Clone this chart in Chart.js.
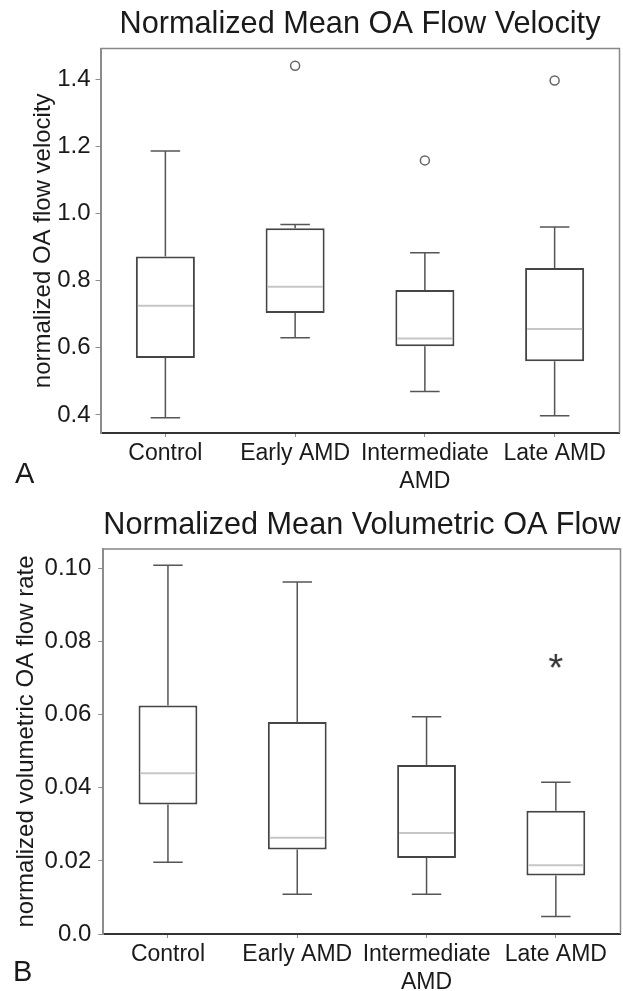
<!DOCTYPE html>
<html>
<head>
<meta charset="utf-8">
<script src="https://cdn.jsdelivr.net/npm/chart.js@4.4.1/dist/chart.umd.min.js"></script>
<style>
html,body{margin:0;padding:0;background:#fff;}
body{width:623px;height:991px;position:relative;overflow:hidden;font-family:"Liberation Sans",Arial,sans-serif;}
.panel{position:absolute;left:0;width:623px;}
#wrapA{top:0;height:500px;}
#wrapB{top:478px;height:513px;}
.tag{position:absolute;font-size:29px;line-height:29px;color:#1a1a1a;}
</style>
</head>
<body>
<div class="panel" id="wrapA"><canvas id="chartA" width="623" height="500"></canvas></div>
<div class="panel" id="wrapB"><canvas id="chartB" width="623" height="513"></canvas></div>
<div class="tag" style="left:15px;top:459px">A</div>
<div class="tag" style="left:13px;top:957px">B</div>
<script>
"use strict";

const groups = ['Control', 'Early AMD', ['Intermediate', 'AMD'], 'Late AMD'];

// Panel A: normalized mean OA flow velocity
const velMin = [0.392, 0.630, 0.470, 0.398];
const velQ1  = [0.570, 0.704, 0.605, 0.560];
const velMed = [0.725, 0.782, 0.628, 0.656];
const velQ3  = [0.872, 0.956, 0.772, 0.838];
const velMax = [1.186, 0.967, 0.883, 0.960];
const velOut = [null, 1.440, 1.158, 1.396];
const velTicks = [0.4, 0.6, 0.8, 1.0, 1.2, 1.4];
const velTickLabels = ['0.4', '0.6', '0.8', '1.0', '1.2', '1.4'];

// Panel B: normalized mean volumetric OA flow
const volMin = [0.0196, 0.0109, 0.0109, 0.0048];
const volQ1  = [0.0354, 0.0231, 0.0208, 0.0160];
const volMed = [0.0440, 0.0263, 0.0276, 0.0188];
const volQ3  = [0.0625, 0.0580, 0.0462, 0.0337];
const volMax = [0.1009, 0.0963, 0.0594, 0.0415];
const volOut = [null, null, null, 0.0747];
const volTicks = [0, 0.02, 0.04, 0.06, 0.08, 0.10];
const volTickLabels = ['0.0', '0.02', '0.04', '0.06', '0.08', '0.10'];

const C = {ink:'#1a1a1a', box:'#454545', whisk:'#555', med:'#c6c6c6',
           axisX:'#333', axisY:'#8c8c8c', frame:'#888', tick:'#8c8c8c'};
Chart.defaults.font.family = '"Liberation Sans", Arial, sans-serif';
Chart.defaults.color = C.ink;

// asterisk marker for the extreme value
function starMarker() {
  const c = document.createElement('canvas');
  c.width = 26; c.height = 26;
  const g = c.getContext('2d');
  g.font = '38px "Liberation Sans", Arial, sans-serif';
  g.fillStyle = '#333';
  g.textAlign = 'center';
  const m = g.measureText('*');
  const h = m.actualBoundingBoxAscent + m.actualBoundingBoxDescent;
  g.fillText('*', 13, 13 - h / 2 + m.actualBoundingBoxAscent);
  return c;
}

// whiskers, caps and median, placed with the chart's own scales
const boxPlot = {
  id: 'boxPlot',
  afterDatasetsDraw(chart, args, o) {
    const {ctx, scales: {x, y}} = chart;
    const meta = chart.getDatasetMeta(0);
    ctx.save();
    o.min.forEach((lo, i) => {
      const cx = x.getPixelForValue(i);
      const half = meta.data[i].width / 2, cap = half / 2;
      const yMin = y.getPixelForValue(lo), yMax = y.getPixelForValue(o.max[i]);
      const yQ1 = y.getPixelForValue(o.q1[i]), yQ3 = y.getPixelForValue(o.q3[i]);
      ctx.strokeStyle = C.whisk; ctx.lineWidth = 1.5;
      ctx.beginPath();
      ctx.moveTo(cx, yQ3); ctx.lineTo(cx, yMax);
      ctx.moveTo(cx - cap, yMax); ctx.lineTo(cx + cap, yMax);
      ctx.moveTo(cx, yQ1); ctx.lineTo(cx, yMin);
      ctx.moveTo(cx - cap, yMin); ctx.lineTo(cx + cap, yMin);
      ctx.stroke();
      const ym = y.getPixelForValue(o.med[i]);
      ctx.strokeStyle = C.med; ctx.lineWidth = 2;
      ctx.beginPath();
      ctx.moveTo(cx - half + 2, ym); ctx.lineTo(cx + half - 2, ym);
      ctx.stroke();
    });
    ctx.restore();
  }
};

// top and right edges of the plot frame
const frame = {
  id: 'frame',
  beforeDatasetsDraw(chart) {
    const {ctx, chartArea: a} = chart;
    ctx.save();
    ctx.strokeStyle = C.frame; ctx.lineWidth = 1.5;
    ctx.beginPath();
    ctx.moveTo(a.left, a.top); ctx.lineTo(a.right, a.top); ctx.lineTo(a.right, a.bottom);
    ctx.stroke();
    ctx.restore();
  }
};

function mkBox(id, s) {
  return new Chart(document.getElementById(id), {
    type: 'bar',
    data: {labels: groups, datasets: [
      {data: s.q1.map((v, i) => [v, s.q3[i]]), backgroundColor: '#fff', borderColor: C.box,
       borderWidth: 2, borderSkipped: false, barPercentage: 0.455, categoryPercentage: 1},
      {type: 'line', data: s.out, showLine: false, pointStyle: s.outStyle, pointRadius: s.outR,
       pointBorderColor: '#666', pointBackgroundColor: '#fff', pointBorderWidth: 1.5},
    ]},
    plugins: [frame, boxPlot],
    options: {
      responsive: false, animation: false,
      // point radius would otherwise pad the right edge of the plot
      layout: {autoPadding: false, padding: {left: 0, right: s.padRight, top: 0, bottom: 0}},
      plugins: {
        legend: {display: false}, tooltip: {enabled: false},
        title: {display: true, text: s.title, fullSize: false, color: C.ink,
                font: {size: 30.7, weight: 'normal'}, padding: s.titlePad},
        boxPlot: {min: s.min, q1: s.q1, med: s.med, q3: s.q3, max: s.max},
      },
      scales: {
        x: {
          afterFit: sc => { sc.height = s.xHeight; sc.paddingLeft = 0; sc.paddingRight = 0; },
          border: {color: C.axisX, width: 2},
          grid: {display: true, drawOnChartArea: false, offset: false, tickLength: 4, color: C.tick},
          ticks: {font: {size: 23}, color: C.ink, padding: 3, autoSkip: false, maxRotation: 0, minRotation: 0},
        },
        y: {
          min: s.yMin, max: s.yMax,
          afterFit: sc => { sc.width = s.yWidth; sc.paddingTop = 0; sc.paddingBottom = 0; },
          afterBuildTicks: sc => { sc.ticks = s.ticks.map(v => ({value: v})); },
          border: {color: C.axisY, width: 2},
          grid: {display: true, drawOnChartArea: false, tickLength: 5, color: C.tick},
          ticks: {font: {size: 24}, color: C.ink, padding: s.yTickPad,
                  callback: (v, i) => s.tickLabels[i]},
          title: {display: true, text: s.yTitle, color: C.ink, font: {size: 24},
                  padding: {top: s.yTitlePad, bottom: 0}},
        },
      },
    },
  });
}

mkBox('chartA', {
  title: 'Normalized Mean OA Flow Velocity', yTitle: 'normalized OA flow velocity',
  min: velMin, q1: velQ1, med: velMed, q3: velQ3, max: velMax, out: velOut,
  ticks: velTicks, tickLabels: velTickLabels, outStyle: 'circle', outR: 4.5,
  yMin: 0.3464, yMax: 1.491, yWidth: 100.5, xHeight: 67, padRight: 3.5,
  titlePad: {top: 6.3, bottom: 5.4}, yTickPad: 5, yTitlePad: 28.6,
});

mkBox('chartB', {
  title: 'Normalized Mean Volumetric OA Flow', yTitle: 'normalized volumetric OA flow rate',
  min: volMin, q1: volQ1, med: volMed, q3: volQ3, max: volMax, out: volOut,
  ticks: volTicks, tickLabels: volTickLabels, outStyle: starMarker(), outR: 11,
  yMin: 0, yMax: 0.1053, yWidth: 103.3, xHeight: 57, padRight: 2.5,
  titlePad: {top: 29.3, bottom: 4.9}, yTickPad: 7, yTitlePad: 11.6,
});
</script>
</body>
</html>
